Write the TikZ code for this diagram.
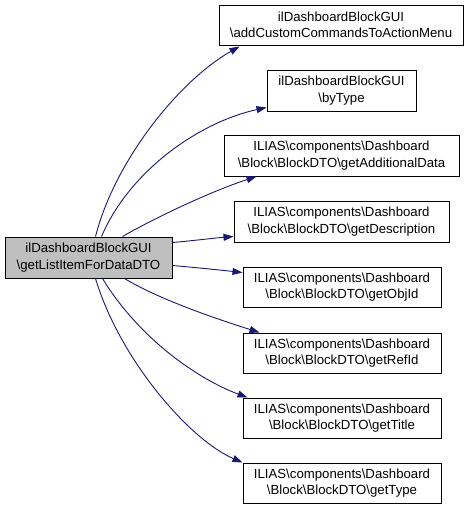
\documentclass[tikz,border=0pt]{standalone}
\usepackage{fontspec}
\setmainfont{Liberation Sans}
\usetikzlibrary{arrows.meta}
\definecolor{edgeblue}{HTML}{191970}
\definecolor{mainfill}{HTML}{BFBFBF}
\tikzset{
  box/.style={draw=black, line width=1pt, fill=white, align=center, inner sep=0pt,
    font=\fontsize{13.2}{16.5}\selectfont, minimum height=41pt},
  mainbox/.style={box, fill=mainfill},
  edge/.style={draw=edgeblue, line width=0.9pt, -{Triangle[length=10pt,width=7pt]}}
}
\newcommand{\bs}{\textbackslash}
\begin{document}
\begin{tikzpicture}[x=1pt,y=-1pt]
\useasboundingbox (0,0) rectangle (469,509);
\node[mainbox, minimum width=167pt] (m) at (88.5,257.5) {ilDashboardBlockGUI\\\bs getListItemForDataDTO};
\node[box, minimum width=244pt, minimum height=40pt] (b1) at (341,25) {ilDashboardBlockGUI\\\bs addCustomCommandsToActionMenu};
\node[box, minimum width=149pt] (b2) at (341.5,90.5) {ilDashboardBlockGUI\\\bs byType};
\node[box, minimum width=235pt] (b3) at (341.5,155.5) {ILIAS\bs components\bs Dashboard\\\bs Block\bs BlockDTO\bs getAdditionalData};
\node[box, minimum width=215pt] (b4) at (341.5,221.5) {ILIAS\bs components\bs Dashboard\\\bs Block\bs BlockDTO\bs getDescription};
\node[box, minimum width=198pt, minimum height=40pt] (b5) at (342,287) {ILIAS\bs components\bs Dashboard\\\bs Block\bs BlockDTO\bs getObjId};
\node[box, minimum width=198pt, minimum height=40pt] (b6) at (342,353) {ILIAS\bs components\bs Dashboard\\\bs Block\bs BlockDTO\bs getRefId};
\node[box, minimum width=198pt, minimum height=40pt] (b7) at (342,418) {ILIAS\bs components\bs Dashboard\\\bs Block\bs BlockDTO\bs getTitle};
\node[box, minimum width=198pt, minimum height=40pt] (b8) at (342,483) {ILIAS\bs components\bs Dashboard\\\bs Block\bs BlockDTO\bs getType};
\draw[edge] ([xshift=91pt]m.north west) .. controls (115,160) and (180,80) .. ([xshift=21pt,yshift=-1pt]b1.south west);
\draw[edge] ([xshift=97pt]m.north west) .. controls (130,170) and (200,122) .. ([yshift=4pt]b2.south west);
\draw[edge] ([xshift=118pt]m.north west) .. controls (160,215) and (215,190) .. ([xshift=33pt]b3.south west);
\draw[edge] ([yshift=-6pt]m.north east) .. controls (190,241) and (215,238) .. ([yshift=6pt]b4.south west);
\draw[edge] ([yshift=13pt]m.south east) .. controls (190,267) and (220,270) .. ([yshift=-6pt]b5.north west);
\draw[edge] ([xshift=120pt]m.south west) .. controls (160,300) and (220,320) .. ([xshift=17pt]b6.north west);
\draw[edge] ([xshift=98pt]m.south west) .. controls (140,340) and (200,380) .. ([xshift=5pt]b7.north west);
\draw[edge] ([xshift=91pt]m.south west) .. controls (120,360) and (190,440) .. (b8.north west);
\end{tikzpicture}
\end{document}
